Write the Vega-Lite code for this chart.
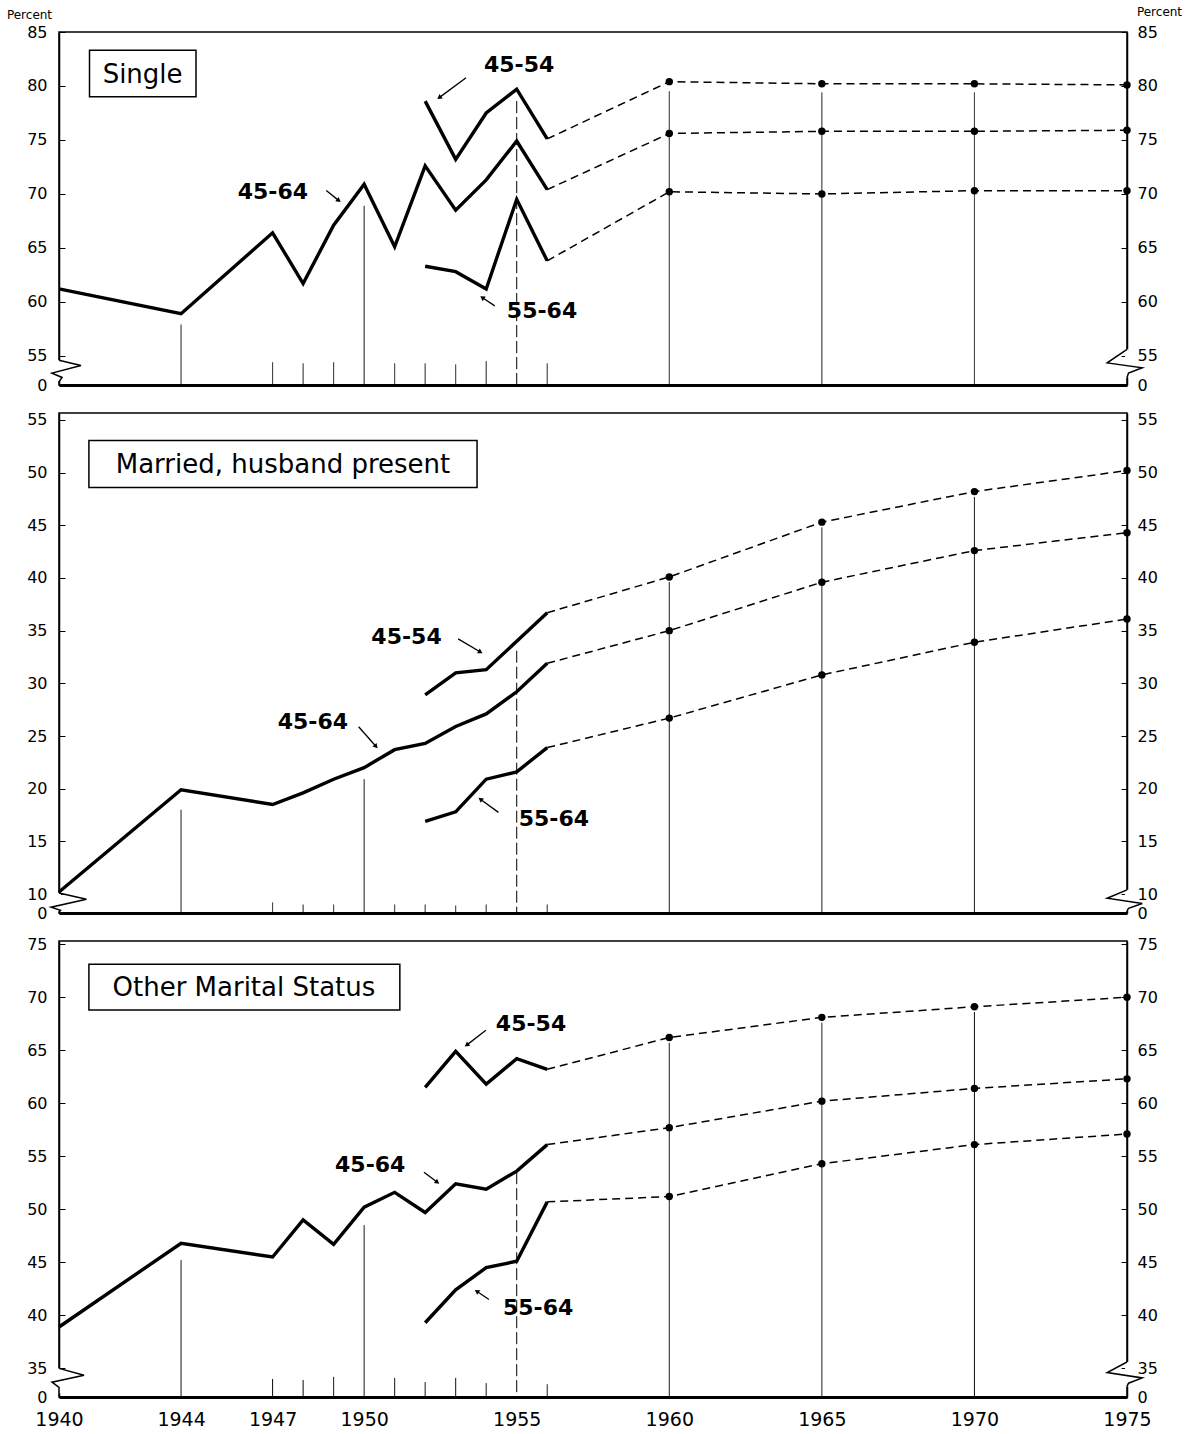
{
  "$schema": "https://vega.github.io/schema/vega-lite/v6.json",
  "background": "white",
  "padding": {"left": 5, "top": 4, "right": 10, "bottom": 0},
  "bounds": "flush",
  "spacing": 28,
  "config": {
    "view": {"stroke": "black", "strokeWidth": 1.5},
    "axis": {"grid": false, "labelFont": "DejaVu Sans", "labelColor": "black", "domainColor": "black", "tickColor": "black", "titleColor": "black", "titleFont": "DejaVu Sans"},
    "text": {"font": "DejaVu Sans", "color": "black"}
  },
  "datasets": {
    "lines": [
      {"panel": "Single", "series": "45-64", "year": 1940, "pct": 61.2},
      {"panel": "Single", "series": "45-64", "year": 1944, "pct": 58.9},
      {"panel": "Single", "series": "45-64", "year": 1947, "pct": 66.4},
      {"panel": "Single", "series": "45-64", "year": 1948, "pct": 61.7},
      {"panel": "Single", "series": "45-64", "year": 1949, "pct": 67.1},
      {"panel": "Single", "series": "45-64", "year": 1950, "pct": 70.9},
      {"panel": "Single", "series": "45-64", "year": 1951, "pct": 65.1},
      {"panel": "Single", "series": "45-64", "year": 1952, "pct": 72.6},
      {"panel": "Single", "series": "45-64", "year": 1953, "pct": 68.5},
      {"panel": "Single", "series": "45-64", "year": 1954, "pct": 71.3},
      {"panel": "Single", "series": "45-64", "year": 1955, "pct": 74.9},
      {"panel": "Single", "series": "45-64", "year": 1956, "pct": 70.4},
      {"panel": "Single", "series": "45-64", "year": 1960, "pct": 75.6},
      {"panel": "Single", "series": "45-64", "year": 1965, "pct": 75.8},
      {"panel": "Single", "series": "45-64", "year": 1970, "pct": 75.8},
      {"panel": "Single", "series": "45-64", "year": 1975, "pct": 75.9},
      {"panel": "Single", "series": "45-54", "year": 1952, "pct": 78.6},
      {"panel": "Single", "series": "45-54", "year": 1953, "pct": 73.2},
      {"panel": "Single", "series": "45-54", "year": 1954, "pct": 77.5},
      {"panel": "Single", "series": "45-54", "year": 1955, "pct": 79.7},
      {"panel": "Single", "series": "45-54", "year": 1956, "pct": 75.1},
      {"panel": "Single", "series": "45-54", "year": 1960, "pct": 80.4},
      {"panel": "Single", "series": "45-54", "year": 1965, "pct": 80.2},
      {"panel": "Single", "series": "45-54", "year": 1970, "pct": 80.2},
      {"panel": "Single", "series": "45-54", "year": 1975, "pct": 80.1},
      {"panel": "Single", "series": "55-64", "year": 1952, "pct": 63.3},
      {"panel": "Single", "series": "55-64", "year": 1953, "pct": 62.8},
      {"panel": "Single", "series": "55-64", "year": 1954, "pct": 61.2},
      {"panel": "Single", "series": "55-64", "year": 1955, "pct": 69.5},
      {"panel": "Single", "series": "55-64", "year": 1956, "pct": 63.8},
      {"panel": "Single", "series": "55-64", "year": 1960, "pct": 70.2},
      {"panel": "Single", "series": "55-64", "year": 1965, "pct": 70.0},
      {"panel": "Single", "series": "55-64", "year": 1970, "pct": 70.3},
      {"panel": "Single", "series": "55-64", "year": 1975, "pct": 70.3},
      {"panel": "Married", "series": "45-64", "year": 1940, "pct": 10.2},
      {"panel": "Married", "series": "45-64", "year": 1944, "pct": 19.9},
      {"panel": "Married", "series": "45-64", "year": 1947, "pct": 18.5},
      {"panel": "Married", "series": "45-64", "year": 1948, "pct": 19.6},
      {"panel": "Married", "series": "45-64", "year": 1949, "pct": 20.9},
      {"panel": "Married", "series": "45-64", "year": 1950, "pct": 22.0},
      {"panel": "Married", "series": "45-64", "year": 1951, "pct": 23.7},
      {"panel": "Married", "series": "45-64", "year": 1952, "pct": 24.3},
      {"panel": "Married", "series": "45-64", "year": 1953, "pct": 25.9},
      {"panel": "Married", "series": "45-64", "year": 1954, "pct": 27.1},
      {"panel": "Married", "series": "45-64", "year": 1955, "pct": 29.2},
      {"panel": "Married", "series": "45-64", "year": 1956, "pct": 31.9},
      {"panel": "Married", "series": "45-64", "year": 1960, "pct": 35.0},
      {"panel": "Married", "series": "45-64", "year": 1965, "pct": 39.6},
      {"panel": "Married", "series": "45-64", "year": 1970, "pct": 42.6},
      {"panel": "Married", "series": "45-64", "year": 1975, "pct": 44.3},
      {"panel": "Married", "series": "45-54", "year": 1952, "pct": 28.9},
      {"panel": "Married", "series": "45-54", "year": 1953, "pct": 31.0},
      {"panel": "Married", "series": "45-54", "year": 1954, "pct": 31.3},
      {"panel": "Married", "series": "45-54", "year": 1955, "pct": 34.0},
      {"panel": "Married", "series": "45-54", "year": 1956, "pct": 36.7},
      {"panel": "Married", "series": "45-54", "year": 1960, "pct": 40.1},
      {"panel": "Married", "series": "45-54", "year": 1965, "pct": 45.3},
      {"panel": "Married", "series": "45-54", "year": 1970, "pct": 48.2},
      {"panel": "Married", "series": "45-54", "year": 1975, "pct": 50.2},
      {"panel": "Married", "series": "55-64", "year": 1952, "pct": 16.9},
      {"panel": "Married", "series": "55-64", "year": 1953, "pct": 17.8},
      {"panel": "Married", "series": "55-64", "year": 1954, "pct": 20.9},
      {"panel": "Married", "series": "55-64", "year": 1955, "pct": 21.6},
      {"panel": "Married", "series": "55-64", "year": 1956, "pct": 23.9},
      {"panel": "Married", "series": "55-64", "year": 1960, "pct": 26.7},
      {"panel": "Married", "series": "55-64", "year": 1965, "pct": 30.8},
      {"panel": "Married", "series": "55-64", "year": 1970, "pct": 33.9},
      {"panel": "Married", "series": "55-64", "year": 1975, "pct": 36.1},
      {"panel": "Other", "series": "45-64", "year": 1940, "pct": 38.9},
      {"panel": "Other", "series": "45-64", "year": 1944, "pct": 46.8},
      {"panel": "Other", "series": "45-64", "year": 1947, "pct": 45.5},
      {"panel": "Other", "series": "45-64", "year": 1948, "pct": 49.0},
      {"panel": "Other", "series": "45-64", "year": 1949, "pct": 46.7},
      {"panel": "Other", "series": "45-64", "year": 1950, "pct": 50.2},
      {"panel": "Other", "series": "45-64", "year": 1951, "pct": 51.6},
      {"panel": "Other", "series": "45-64", "year": 1952, "pct": 49.7},
      {"panel": "Other", "series": "45-64", "year": 1953, "pct": 52.4},
      {"panel": "Other", "series": "45-64", "year": 1954, "pct": 51.9},
      {"panel": "Other", "series": "45-64", "year": 1955, "pct": 53.6},
      {"panel": "Other", "series": "45-64", "year": 1956, "pct": 56.1},
      {"panel": "Other", "series": "45-64", "year": 1960, "pct": 57.7},
      {"panel": "Other", "series": "45-64", "year": 1965, "pct": 60.2},
      {"panel": "Other", "series": "45-64", "year": 1970, "pct": 61.4},
      {"panel": "Other", "series": "45-64", "year": 1975, "pct": 62.3},
      {"panel": "Other", "series": "45-54", "year": 1952, "pct": 61.5},
      {"panel": "Other", "series": "45-54", "year": 1953, "pct": 64.9},
      {"panel": "Other", "series": "45-54", "year": 1954, "pct": 61.8},
      {"panel": "Other", "series": "45-54", "year": 1955, "pct": 64.2},
      {"panel": "Other", "series": "45-54", "year": 1956, "pct": 63.2},
      {"panel": "Other", "series": "45-54", "year": 1960, "pct": 66.2},
      {"panel": "Other", "series": "45-54", "year": 1965, "pct": 68.1},
      {"panel": "Other", "series": "45-54", "year": 1970, "pct": 69.1},
      {"panel": "Other", "series": "45-54", "year": 1975, "pct": 70.0},
      {"panel": "Other", "series": "55-64", "year": 1952, "pct": 39.3},
      {"panel": "Other", "series": "55-64", "year": 1953, "pct": 42.4},
      {"panel": "Other", "series": "55-64", "year": 1954, "pct": 44.5},
      {"panel": "Other", "series": "55-64", "year": 1955, "pct": 45.1},
      {"panel": "Other", "series": "55-64", "year": 1956, "pct": 50.7},
      {"panel": "Other", "series": "55-64", "year": 1960, "pct": 51.2},
      {"panel": "Other", "series": "55-64", "year": 1965, "pct": 54.3},
      {"panel": "Other", "series": "55-64", "year": 1970, "pct": 56.1},
      {"panel": "Other", "series": "55-64", "year": 1975, "pct": 57.1}
    ],
    "drops": [
      {"panel": "Single", "kind": "full", "year": 1944, "pct": 57.9},
      {"panel": "Single", "kind": "full", "year": 1950, "pct": 68.9},
      {"panel": "Single", "kind": "dash", "year": 1955, "pct": 78.6},
      {"panel": "Single", "kind": "full", "year": 1960, "pct": 79.5},
      {"panel": "Single", "kind": "full", "year": 1965, "pct": 79.4},
      {"panel": "Single", "kind": "full", "year": 1970, "pct": 79.4},
      {"panel": "Single", "kind": "tick", "year": 1947, "pct": 54.4},
      {"panel": "Single", "kind": "tick", "year": 1948, "pct": 54.3},
      {"panel": "Single", "kind": "tick", "year": 1949, "pct": 54.4},
      {"panel": "Single", "kind": "tick", "year": 1951, "pct": 54.3},
      {"panel": "Single", "kind": "tick", "year": 1952, "pct": 54.3},
      {"panel": "Single", "kind": "tick", "year": 1953, "pct": 54.2},
      {"panel": "Single", "kind": "tick", "year": 1954, "pct": 54.5},
      {"panel": "Single", "kind": "tick", "year": 1956, "pct": 54.3},
      {"panel": "Married", "kind": "full", "year": 1944, "pct": 18.0},
      {"panel": "Married", "kind": "full", "year": 1950, "pct": 20.9},
      {"panel": "Married", "kind": "dash", "year": 1955, "pct": 33.1},
      {"panel": "Married", "kind": "full", "year": 1960, "pct": 39.6},
      {"panel": "Married", "kind": "full", "year": 1965, "pct": 44.8},
      {"panel": "Married", "kind": "full", "year": 1970, "pct": 47.7},
      {"panel": "Married", "kind": "tick", "year": 1947, "pct": 9.2},
      {"panel": "Married", "kind": "tick", "year": 1948, "pct": 9.0},
      {"panel": "Married", "kind": "tick", "year": 1949, "pct": 9.0},
      {"panel": "Married", "kind": "tick", "year": 1951, "pct": 9.0},
      {"panel": "Married", "kind": "tick", "year": 1952, "pct": 9.0},
      {"panel": "Married", "kind": "tick", "year": 1953, "pct": 8.9},
      {"panel": "Married", "kind": "tick", "year": 1954, "pct": 9.0},
      {"panel": "Married", "kind": "tick", "year": 1956, "pct": 9.0},
      {"panel": "Other", "kind": "full", "year": 1944, "pct": 45.2},
      {"panel": "Other", "kind": "full", "year": 1950, "pct": 48.5},
      {"panel": "Other", "kind": "dash", "year": 1955, "pct": 53.5},
      {"panel": "Other", "kind": "full", "year": 1960, "pct": 65.7},
      {"panel": "Other", "kind": "full", "year": 1965, "pct": 67.6},
      {"panel": "Other", "kind": "full", "year": 1970, "pct": 68.6},
      {"panel": "Other", "kind": "tick", "year": 1947, "pct": 34.0},
      {"panel": "Other", "kind": "tick", "year": 1948, "pct": 33.9},
      {"panel": "Other", "kind": "tick", "year": 1949, "pct": 34.2},
      {"panel": "Other", "kind": "tick", "year": 1951, "pct": 34.1},
      {"panel": "Other", "kind": "tick", "year": 1952, "pct": 33.7},
      {"panel": "Other", "kind": "tick", "year": 1953, "pct": 34.1},
      {"panel": "Other", "kind": "tick", "year": 1954, "pct": 33.6},
      {"panel": "Other", "kind": "tick", "year": 1956, "pct": 33.5}
    ],
    "labels": [
      {"panel": "Single", "kind": "title", "text": "Single", "year": 1942.74, "pct": 81.0},
      {"panel": "Single", "kind": "series", "text": "45-54", "year": 1955.08, "pct": 81.9},
      {"panel": "Single", "kind": "series", "text": "45-64", "year": 1947.01, "pct": 70.2},
      {"panel": "Single", "kind": "series", "text": "55-64", "year": 1955.83, "pct": 59.2},
      {"panel": "Married", "kind": "title", "text": "Married, husband present", "year": 1947.34, "pct": 50.7},
      {"panel": "Married", "kind": "series", "text": "45-54", "year": 1951.39, "pct": 34.4},
      {"panel": "Married", "kind": "series", "text": "45-64", "year": 1948.32, "pct": 26.3},
      {"panel": "Married", "kind": "series", "text": "55-64", "year": 1956.22, "pct": 17.1},
      {"panel": "Other", "kind": "title", "text": "Other Marital Status", "year": 1946.06, "pct": 70.9},
      {"panel": "Other", "kind": "series", "text": "45-54", "year": 1955.47, "pct": 67.5},
      {"panel": "Other", "kind": "series", "text": "45-64", "year": 1950.2, "pct": 54.2},
      {"panel": "Other", "kind": "series", "text": "55-64", "year": 1955.7, "pct": 40.7}
    ],
    "boxes": [
      {"panel": "Single", "year": 1941.0, "year2": 1944.49, "pct": 83.3, "pct2": 79.0},
      {"panel": "Married", "year": 1940.98, "year2": 1953.7, "pct": 53.06, "pct2": 48.6},
      {"panel": "Other", "year": 1940.98, "year2": 1951.17, "pct": 73.1, "pct2": 68.8}
    ],
    "arrows": [
      {"panel": "Single", "year": 1952.46, "pct": 78.92, "year2": 1953.34, "pct2": 80.77},
      {"panel": "Single", "year": 1949.17, "pct": 69.38, "year2": 1948.76, "pct2": 70.31},
      {"panel": "Single", "year": 1953.87, "pct": 60.4, "year2": 1954.28, "pct2": 59.63},
      {"panel": "Married", "year": 1953.81, "pct": 32.97, "year2": 1953.08, "pct2": 34.22},
      {"panel": "Married", "year": 1950.39, "pct": 24.0, "year2": 1949.82, "pct2": 25.88},
      {"panel": "Married", "year": 1953.81, "pct": 19.0, "year2": 1954.4, "pct2": 17.75},
      {"panel": "Other", "year": 1953.36, "pct": 65.48, "year2": 1953.99, "pct2": 66.88},
      {"panel": "Other", "year": 1952.4, "pct": 52.55, "year2": 1951.96, "pct2": 53.49},
      {"panel": "Other", "year": 1953.69, "pct": 42.27, "year2": 1954.09, "pct2": 41.5}
    ],
    "breaks": [
      {"panel": "Single", "side": "L", "o": 1, "year": 1940.0, "pct": 54.6},
      {"panel": "Single", "side": "L", "o": 2, "year": 1940.72, "pct": 54.1},
      {"panel": "Single", "side": "L", "o": 3, "year": 1939.77, "pct": 53.4},
      {"panel": "Single", "side": "L", "o": 4, "year": 1940.1, "pct": 53.0},
      {"panel": "Single", "side": "L", "o": 5, "year": 1940.0, "pct": 52.6},
      {"panel": "Single", "side": "R", "o": 1, "year": 1975.0, "pct": 55.6},
      {"panel": "Single", "side": "R", "o": 2, "year": 1974.35, "pct": 54.35},
      {"panel": "Single", "side": "R", "o": 3, "year": 1975.5, "pct": 53.9},
      {"panel": "Single", "side": "R", "o": 4, "year": 1975.05, "pct": 53.4},
      {"panel": "Single", "side": "R", "o": 5, "year": 1975.0, "pct": 53.0},
      {"panel": "Married", "side": "L", "o": 1, "year": 1940.0, "pct": 10.1},
      {"panel": "Married", "side": "L", "o": 2, "year": 1940.9, "pct": 9.5},
      {"panel": "Married", "side": "L", "o": 3, "year": 1939.74, "pct": 8.75},
      {"panel": "Married", "side": "L", "o": 4, "year": 1940.05, "pct": 8.45},
      {"panel": "Married", "side": "L", "o": 5, "year": 1940.0, "pct": 8.3},
      {"panel": "Married", "side": "R", "o": 1, "year": 1975.0, "pct": 10.4},
      {"panel": "Married", "side": "R", "o": 2, "year": 1974.35, "pct": 9.6},
      {"panel": "Married", "side": "R", "o": 3, "year": 1975.5, "pct": 9.1},
      {"panel": "Married", "side": "R", "o": 4, "year": 1975.05, "pct": 8.65},
      {"panel": "Married", "side": "R", "o": 5, "year": 1975.0, "pct": 8.4},
      {"panel": "Other", "side": "L", "o": 1, "year": 1940.0, "pct": 35.0},
      {"panel": "Other", "side": "L", "o": 2, "year": 1940.82, "pct": 34.36},
      {"panel": "Other", "side": "L", "o": 3, "year": 1939.77, "pct": 33.7},
      {"panel": "Other", "side": "L", "o": 4, "year": 1940.0, "pct": 33.2},
      {"panel": "Other", "side": "L", "o": 5, "year": 1940.0, "pct": 32.6},
      {"panel": "Other", "side": "R", "o": 1, "year": 1975.0, "pct": 35.6},
      {"panel": "Other", "side": "R", "o": 2, "year": 1974.35, "pct": 34.6},
      {"panel": "Other", "side": "R", "o": 3, "year": 1975.5, "pct": 34.1},
      {"panel": "Other", "side": "R", "o": 4, "year": 1975.05, "pct": 33.6},
      {"panel": "Other", "side": "R", "o": 5, "year": 1975.0, "pct": 33.3}
    ],
    "masks": [
      {"panel": "Single", "year": 1940, "pct": 52.65, "pct2": 54.6},
      {"panel": "Single", "year": 1975, "pct": 53.0, "pct2": 55.6},
      {"panel": "Married", "year": 1940, "pct": 8.35, "pct2": 10.1},
      {"panel": "Married", "year": 1975, "pct": 8.4, "pct2": 10.4},
      {"panel": "Other", "year": 1940, "pct": 32.65, "pct2": 35.0},
      {"panel": "Other", "year": 1975, "pct": 33.3, "pct2": 35.6}
    ]
  },
  "vconcat": [
    {
      "width": 1068,
      "height": 353,
      "encoding": {
        "x": {"field": "year", "type": "quantitative", "scale": {"domain": [1940, 1975], "nice": false, "zero": false}, "axis": {"title": null, "labels": false, "ticks": false, "domainWidth": 3}},
        "y": {"field": "pct", "type": "quantitative", "scale": {"domain": [52.3, 85], "nice": false, "zero": false}, "axis": null}
      },
      "layer": [
        {
          "data": {"name": "drops"},
          "transform": [{"filter": "datum.panel == 'Single'"}],
          "mark": {"type": "rule", "strokeWidth": 1, "color": "black"},
          "encoding": {
            "y2": {"datum": 52.3},
            "strokeDash": {"field": "kind", "type": "nominal", "scale": {"domain": ["full", "dash", "tick"], "range": [[1, 0], [12, 4], [1, 0]]}, "legend": null}
          }
        },
        {
          "data": {"name": "lines"},
          "transform": [{"filter": "datum.panel == 'Single' && datum.year <= 1956"}],
          "mark": {"type": "line", "strokeWidth": 3.4, "color": "black"},
          "encoding": {
            "detail": {"field": "series"},
            "y": {"field": "pct", "type": "quantitative", "scale": {"domain": [52.3, 85], "nice": false, "zero": false},
              "axis": {"orient": "left", "title": "Percent", "titleAngle": 0, "titleFontSize": 12, "titleFontWeight": "normal", "titleAlign": "center", "titleBaseline": "middle", "titleX": -30, "titleY": -18,
                "values": [52.3, 55, 60, 65, 70, 75, 80, 85], "labelExpr": "datum.value < 54 ? '0' : datum.label", "labelOverlap": false, "labelFontSize": 16, "tickSize": -6, "labelPadding": 18, "domainWidth": 1.5}}
          }
        },
        {
          "data": {"name": "lines"},
          "transform": [{"filter": "datum.panel == 'Single' && datum.year >= 1956"}],
          "mark": {"type": "line", "strokeWidth": 1.5, "color": "black", "strokeDash": [8, 5]},
          "encoding": {
            "detail": {"field": "series"},
            "y": {"field": "pct", "type": "quantitative", "scale": {"domain": [52.3, 85], "nice": false, "zero": false},
              "axis": {"orient": "right", "title": "Percent", "titleAngle": 0, "titleFontSize": 12, "titleFontWeight": "normal", "titleAlign": "center", "titleBaseline": "middle", "titleX": 32, "titleY": -21,
                "values": [52.3, 55, 60, 65, 70, 75, 80, 85], "labelExpr": "datum.value < 54 ? '0' : datum.label", "labelOverlap": false, "labelFontSize": 16, "tickSize": -6, "labelPadding": 16, "domainWidth": 1.5}}
          }
        },
        {
          "data": {"name": "lines"},
          "transform": [{"filter": "datum.panel == 'Single' && datum.year >= 1960"}],
          "mark": {"type": "point", "filled": true, "color": "black", "size": 55, "opacity": 1}
        },
        {
          "data": {"name": "boxes"},
          "transform": [{"filter": "datum.panel == 'Single'"}],
          "mark": {"type": "rect", "fill": "white", "stroke": "black", "strokeWidth": 1.5},
          "encoding": {"x2": {"field": "year2"}, "y2": {"field": "pct2"}}
        },
        {
          "data": {"name": "labels"},
          "transform": [{"filter": "datum.panel == 'Single' && datum.kind == 'title'"}],
          "mark": {"type": "text", "fontSize": 26, "align": "center", "baseline": "middle"},
          "encoding": {"text": {"field": "text"}}
        },
        {
          "data": {"name": "labels"},
          "transform": [{"filter": "datum.panel == 'Single' && datum.kind == 'series'"}],
          "mark": {"type": "text", "fontSize": 22, "fontWeight": "bold", "align": "center", "baseline": "middle"},
          "encoding": {"text": {"field": "text"}}
        },
        {
          "data": {"name": "arrows"},
          "transform": [{"filter": "datum.panel == 'Single'"}],
          "mark": {"type": "rule", "strokeWidth": 1.3, "color": "black"},
          "encoding": {"x2": {"field": "year2"}, "y2": {"field": "pct2"}}
        },
        {
          "data": {"name": "arrows"},
          "transform": [{"filter": "datum.panel == 'Single'"}, {"calculate": "atan2((datum.year - datum.year2) * 30.5, (datum.pct - datum.pct2) * 10.8) * 180 / PI", "as": "ang"}],
          "mark": {"type": "point", "shape": "triangle-up", "filled": true, "color": "black", "size": 30, "opacity": 1},
          "encoding": {"angle": {"field": "ang", "type": "quantitative", "scale": null}}
        },
        {
          "data": {"name": "masks"},
          "transform": [{"filter": "datum.panel == 'Single'"}],
          "mark": {"type": "rule", "strokeWidth": 4, "color": "white"},
          "encoding": {"y2": {"field": "pct2"}}
        },
        {
          "data": {"name": "breaks"},
          "transform": [{"filter": "datum.panel == 'Single'"}],
          "mark": {"type": "line", "strokeWidth": 1.5, "color": "black", "clip": false},
          "encoding": {"detail": {"field": "side"}, "order": {"field": "o"}}
        }
      ],
      "resolve": {"axis": {"y": "independent"}}
    },
    {
      "width": 1068,
      "height": 500,
      "encoding": {
        "x": {"field": "year", "type": "quantitative", "scale": {"domain": [1940, 1975], "nice": false, "zero": false}, "axis": {"title": null, "labels": false, "ticks": false, "domainWidth": 3}},
        "y": {"field": "pct", "type": "quantitative", "scale": {"domain": [8.2, 55.66], "nice": false, "zero": false}, "axis": null}
      },
      "layer": [
        {
          "data": {"name": "drops"},
          "transform": [{"filter": "datum.panel == 'Married'"}],
          "mark": {"type": "rule", "strokeWidth": 1, "color": "black"},
          "encoding": {
            "y2": {"datum": 8.2},
            "strokeDash": {"field": "kind", "type": "nominal", "scale": {"domain": ["full", "dash", "tick"], "range": [[1, 0], [12, 4], [1, 0]]}, "legend": null}
          }
        },
        {
          "data": {"name": "lines"},
          "transform": [{"filter": "datum.panel == 'Married' && datum.year <= 1956"}],
          "mark": {"type": "line", "strokeWidth": 3.4, "color": "black"},
          "encoding": {
            "detail": {"field": "series"},
            "y": {"field": "pct", "type": "quantitative", "scale": {"domain": [8.2, 55.66], "nice": false, "zero": false},
              "axis": {"orient": "left", "title": null, "values": [8.2, 10, 15, 20, 25, 30, 35, 40, 45, 50, 55], "labelExpr": "datum.value < 9 ? '0' : datum.label", "labelOverlap": false, "labelFontSize": 16, "tickSize": -6, "labelPadding": 18, "domainWidth": 1.5}}
          }
        },
        {
          "data": {"name": "lines"},
          "transform": [{"filter": "datum.panel == 'Married' && datum.year >= 1956"}],
          "mark": {"type": "line", "strokeWidth": 1.5, "color": "black", "strokeDash": [8, 5]},
          "encoding": {
            "detail": {"field": "series"},
            "y": {"field": "pct", "type": "quantitative", "scale": {"domain": [8.2, 55.66], "nice": false, "zero": false},
              "axis": {"orient": "right", "title": null, "values": [8.2, 10, 15, 20, 25, 30, 35, 40, 45, 50, 55], "labelExpr": "datum.value < 9 ? '0' : datum.label", "labelOverlap": false, "labelFontSize": 16, "tickSize": -6, "labelPadding": 16, "domainWidth": 1.5}}
          }
        },
        {
          "data": {"name": "lines"},
          "transform": [{"filter": "datum.panel == 'Married' && datum.year >= 1960"}],
          "mark": {"type": "point", "filled": true, "color": "black", "size": 55, "opacity": 1}
        },
        {
          "data": {"name": "boxes"},
          "transform": [{"filter": "datum.panel == 'Married'"}],
          "mark": {"type": "rect", "fill": "white", "stroke": "black", "strokeWidth": 1.5},
          "encoding": {"x2": {"field": "year2"}, "y2": {"field": "pct2"}}
        },
        {
          "data": {"name": "labels"},
          "transform": [{"filter": "datum.panel == 'Married' && datum.kind == 'title'"}],
          "mark": {"type": "text", "fontSize": 26, "align": "center", "baseline": "middle"},
          "encoding": {"text": {"field": "text"}}
        },
        {
          "data": {"name": "labels"},
          "transform": [{"filter": "datum.panel == 'Married' && datum.kind == 'series'"}],
          "mark": {"type": "text", "fontSize": 22, "fontWeight": "bold", "align": "center", "baseline": "middle"},
          "encoding": {"text": {"field": "text"}}
        },
        {
          "data": {"name": "arrows"},
          "transform": [{"filter": "datum.panel == 'Married'"}],
          "mark": {"type": "rule", "strokeWidth": 1.3, "color": "black"},
          "encoding": {"x2": {"field": "year2"}, "y2": {"field": "pct2"}}
        },
        {
          "data": {"name": "arrows"},
          "transform": [{"filter": "datum.panel == 'Married'"}, {"calculate": "atan2((datum.year - datum.year2) * 30.5, (datum.pct - datum.pct2) * 10.53) * 180 / PI", "as": "ang"}],
          "mark": {"type": "point", "shape": "triangle-up", "filled": true, "color": "black", "size": 30, "opacity": 1},
          "encoding": {"angle": {"field": "ang", "type": "quantitative", "scale": null}}
        },
        {
          "data": {"name": "masks"},
          "transform": [{"filter": "datum.panel == 'Married'"}],
          "mark": {"type": "rule", "strokeWidth": 4, "color": "white"},
          "encoding": {"y2": {"field": "pct2"}}
        },
        {
          "data": {"name": "breaks"},
          "transform": [{"filter": "datum.panel == 'Married'"}],
          "mark": {"type": "line", "strokeWidth": 1.5, "color": "black", "clip": false},
          "encoding": {"detail": {"field": "side"}, "order": {"field": "o"}}
        }
      ],
      "resolve": {"axis": {"y": "independent"}}
    },
    {
      "width": 1068,
      "height": 456,
      "encoding": {
        "x": {"field": "year", "type": "quantitative", "scale": {"domain": [1940, 1975], "nice": false, "zero": false},
          "axis": {"title": null, "values": [1940, 1944, 1947, 1950, 1955, 1960, 1965, 1970, 1975], "format": "d", "labelFlush": false, "labelFontSize": 19, "labelPadding": 13, "ticks": false, "tickSize": 0, "domainWidth": 3}},
        "y": {"field": "pct", "type": "quantitative", "scale": {"domain": [32.3, 75.3], "nice": false, "zero": false}, "axis": null}
      },
      "layer": [
        {
          "data": {"name": "drops"},
          "transform": [{"filter": "datum.panel == 'Other'"}],
          "mark": {"type": "rule", "strokeWidth": 1, "color": "black"},
          "encoding": {
            "y2": {"datum": 32.3},
            "strokeDash": {"field": "kind", "type": "nominal", "scale": {"domain": ["full", "dash", "tick"], "range": [[1, 0], [12, 4], [1, 0]]}, "legend": null}
          }
        },
        {
          "data": {"name": "lines"},
          "transform": [{"filter": "datum.panel == 'Other' && datum.year <= 1956"}],
          "mark": {"type": "line", "strokeWidth": 3.4, "color": "black"},
          "encoding": {
            "detail": {"field": "series"},
            "y": {"field": "pct", "type": "quantitative", "scale": {"domain": [32.3, 75.3], "nice": false, "zero": false},
              "axis": {"orient": "left", "title": null, "values": [32.3, 35, 40, 45, 50, 55, 60, 65, 70, 75], "labelExpr": "datum.value < 34 ? '0' : datum.label", "labelOverlap": false, "labelFontSize": 16, "tickSize": -6, "labelPadding": 18, "domainWidth": 1.5}}
          }
        },
        {
          "data": {"name": "lines"},
          "transform": [{"filter": "datum.panel == 'Other' && datum.year >= 1956"}],
          "mark": {"type": "line", "strokeWidth": 1.5, "color": "black", "strokeDash": [8, 5]},
          "encoding": {
            "detail": {"field": "series"},
            "y": {"field": "pct", "type": "quantitative", "scale": {"domain": [32.3, 75.3], "nice": false, "zero": false},
              "axis": {"orient": "right", "title": null, "values": [32.3, 35, 40, 45, 50, 55, 60, 65, 70, 75], "labelExpr": "datum.value < 34 ? '0' : datum.label", "labelOverlap": false, "labelFontSize": 16, "tickSize": -6, "labelPadding": 16, "domainWidth": 1.5}}
          }
        },
        {
          "data": {"name": "lines"},
          "transform": [{"filter": "datum.panel == 'Other' && datum.year >= 1960"}],
          "mark": {"type": "point", "filled": true, "color": "black", "size": 55, "opacity": 1}
        },
        {
          "data": {"name": "boxes"},
          "transform": [{"filter": "datum.panel == 'Other'"}],
          "mark": {"type": "rect", "fill": "white", "stroke": "black", "strokeWidth": 1.5},
          "encoding": {"x2": {"field": "year2"}, "y2": {"field": "pct2"}}
        },
        {
          "data": {"name": "labels"},
          "transform": [{"filter": "datum.panel == 'Other' && datum.kind == 'title'"}],
          "mark": {"type": "text", "fontSize": 26, "align": "center", "baseline": "middle"},
          "encoding": {"text": {"field": "text"}}
        },
        {
          "data": {"name": "labels"},
          "transform": [{"filter": "datum.panel == 'Other' && datum.kind == 'series'"}],
          "mark": {"type": "text", "fontSize": 22, "fontWeight": "bold", "align": "center", "baseline": "middle"},
          "encoding": {"text": {"field": "text"}}
        },
        {
          "data": {"name": "arrows"},
          "transform": [{"filter": "datum.panel == 'Other'"}],
          "mark": {"type": "rule", "strokeWidth": 1.3, "color": "black"},
          "encoding": {"x2": {"field": "year2"}, "y2": {"field": "pct2"}}
        },
        {
          "data": {"name": "arrows"},
          "transform": [{"filter": "datum.panel == 'Other'"}, {"calculate": "atan2((datum.year - datum.year2) * 30.5, (datum.pct - datum.pct2) * 10.6) * 180 / PI", "as": "ang"}],
          "mark": {"type": "point", "shape": "triangle-up", "filled": true, "color": "black", "size": 30, "opacity": 1},
          "encoding": {"angle": {"field": "ang", "type": "quantitative", "scale": null}}
        },
        {
          "data": {"name": "masks"},
          "transform": [{"filter": "datum.panel == 'Other'"}],
          "mark": {"type": "rule", "strokeWidth": 4, "color": "white"},
          "encoding": {"y2": {"field": "pct2"}}
        },
        {
          "data": {"name": "breaks"},
          "transform": [{"filter": "datum.panel == 'Other'"}],
          "mark": {"type": "line", "strokeWidth": 1.5, "color": "black", "clip": false},
          "encoding": {"detail": {"field": "side"}, "order": {"field": "o"}}
        }
      ],
      "resolve": {"axis": {"y": "independent"}}
    }
  ]
}
